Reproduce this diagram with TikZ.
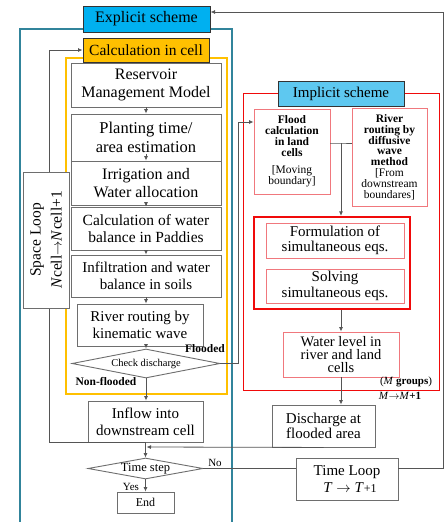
\documentclass[tikz,border=0pt]{standalone}
\usepackage{fontspec}
\setmainfont{Liberation Serif}
\usetikzlibrary{arrows.meta,shapes.geometric}
\definecolor{tealline}{RGB}{49,132,155}
\definecolor{bgray}{RGB}{110,110,110}
\definecolor{lgray}{RGB}{85,85,85}
\definecolor{pinkline}{RGB}{240,120,125}
\definecolor{redline}{RGB}{240,10,10}
\definecolor{explfill}{RGB}{0,176,240}
\definecolor{implfill}{RGB}{94,200,240}
\definecolor{orangefill}{RGB}{255,192,0}
\begin{document}
\begin{tikzpicture}[x=1pt,y=-1pt,
  box/.style={draw=bgray,line width=0.9pt,fill=white,align=center,inner sep=0pt,rectangle},
  pbox/.style={draw=pinkline,line width=0.9pt,fill=white,align=center,inner sep=0pt,rectangle},
  titlebox/.style={draw=black!80,line width=1pt,align=center,inner sep=0pt,rectangle},
  dia/.style={diamond,draw=bgray,line width=0.9pt,fill=white,inner sep=0pt,align=center},
  arr/.style={-{Latex[length=4.5pt,width=4pt]},line width=0.8pt,draw=lgray},
  ln/.style={line width=0.8pt,draw=lgray},
  fR/.style={font=\fontsize{11.5}{10.8}\selectfont},
  lab/.style={font=\fontsize{11}{12}\selectfont,inner sep=0pt}]
\useasboundingbox (0,0) rectangle (445,522);
\fill[white] (0,0) rectangle (445,522);

% frames
\draw[tealline,line width=1.6pt] (20,522) -- (20,29) -- (232,29) -- (232,522);
\draw[orangefill,line width=2.6pt] (66,58) rectangle (227,394);
\draw[redline,line width=1pt] (243,93) rectangle (439,390);

% left column
\node[titlebox,fill=explfill,minimum width=127pt,minimum height=26pt,font=\fontsize{16}{18}\selectfont] (expl) at (146.5,19) {Explicit scheme};
\node[titlebox,fill=orangefill,minimum width=126pt,minimum height=24pt,font=\fontsize{15.5}{18}\selectfont] (calc) at (146,50) {Calculation in cell};
\node[box,minimum width=150pt,minimum height=44pt,font=\fontsize{16}{18}\selectfont] (b1) at (146,85) {Reservoir\\Management Model};
\node[box,minimum width=150pt,minimum height=47pt,font=\fontsize{16.5}{19.5}\selectfont] (b2) at (146,137.5) {Planting time/\\area estimation};
\node[box,minimum width=150pt,minimum height=44pt,font=\fontsize{16}{18}\selectfont] (b3) at (146,183) {Irrigation and\\Water allocation};
\node[box,minimum width=150pt,minimum height=43pt,font=\fontsize{15.5}{17}\selectfont] (b4) at (146,228.5) {Calculation of water\\balance in Paddies};
\node[box,minimum width=150pt,minimum height=42pt,font=\fontsize{15}{17}\selectfont] (b5) at (146,276) {Infiltration and water\\balance in soils};
\node[box,minimum width=126pt,minimum height=42pt,font=\fontsize{15}{17}\selectfont] (b6) at (140,325) {River routing by\\kinematic wave};
\node[dia,minimum width=148pt,minimum height=29pt,shape aspect=5.1,font=\fontsize{10.5}{12}\selectfont] (d1) at (146,363.5) {Check discharge};
\node[box,minimum width=115pt,minimum height=41pt,font=\fontsize{15}{17}\selectfont] (b7) at (145.5,421.5) {Inflow into\\downstream cell};
\node[dia,minimum width=115pt,minimum height=21pt,shape aspect=5.5,font=\fontsize{12.5}{14}\selectfont] (d2) at (145.5,468.5) {Time step};
\node[box,minimum width=57pt,minimum height=21pt,font=\fontsize{12}{14}\selectfont] (b8) at (145.5,502.5) {End};

% right column
\node[titlebox,fill=implfill,minimum width=126pt,minimum height=25pt,font=\fontsize{15}{17}\selectfont] (impl) at (341,93.5) {Implicit scheme};
\node[pbox,minimum width=76pt,minimum height=85pt,fR] (r1) at (292,151.5) {\textbf{Flood}\\\textbf{calculation}\\\textbf{in land}\\\textbf{cells}\\[7pt][Moving\\boundary]};
\node[pbox,minimum width=75pt,minimum height=98pt,fR] (r2) at (389.5,157) {\textbf{River}\\\textbf{routing by}\\\textbf{diffusive}\\\textbf{wave}\\\textbf{method}\\{[}From\\downstream\\boundares]};
\node[draw=redline,line width=2.2pt,rectangle,minimum width=156pt,minimum height=92pt,inner sep=0pt] (th) at (332,263) {};
\node[pbox,minimum width=138pt,minimum height=35pt,font=\fontsize{15}{15.5}\selectfont] (r3) at (335,240.5) {Formulation of\\simultaneous eqs.};
\node[pbox,minimum width=138pt,minimum height=34pt,font=\fontsize{15}{15.5}\selectfont] (r4) at (335,286) {Solving\\simultaneous eqs.};
\node[pbox,minimum width=116pt,minimum height=45pt,font=\fontsize{14.5}{13}\selectfont] (r5) at (341,354.5) {Water level in\\river and land\\cells};
\node[box,minimum width=103pt,minimum height=42pt,font=\fontsize{15}{15.5}\selectfont] (b9) at (323.5,426) {Discharge at\\flooded area};
\node[box,minimum width=102pt,minimum height=42pt,font=\fontsize{15}{16.5}\selectfont] (b10) at (347,479) {Time Loop\\\hspace*{6pt}\textit{T} $\rightarrow$ \textit{T}{\fontsize{12}{12}\selectfont+1}};

% labels
\node[lab,font=\fontsize{11.5}{12}\selectfont\bfseries] (lfl) at (205,349) {Flooded};
\node[lab,font=\fontsize{11.5}{12}\selectfont\bfseries] (lnf) at (106,382) {Non-flooded};
\node[lab] (lno) at (215,463) {No};
\node[lab] (lyes) at (131,487) {Yes};
\node[lab] (lmg) at (406,382) {(\textit{M} \textbf{groups})};
\node[lab] (lmm) at (400,396) {\textit{M}$\rightarrow$\textit{M}\textbf{+1}};

% left chain arrows
\draw[arr] (b1.south) -- (b2.north);
\draw[arr] ([yshift=7pt]b2.south) -- (b3.north);
\draw[arr] (b3.south) -- (b4.north);
\draw[arr] (b4.south) -- (b5.north);
\draw[arr] (b5.south) -- (b5.south |- b6.north);
\draw[arr] (b5.south |- b6.south) -- (d1.north);
\draw[arr] (d1.south) -- (d1.south |- b7.north);
\coordinate (jn) at (145.5,447);
\draw[ln] (b7.south) -- (jn);
\draw[arr] (jn) -- (d2.north);
\draw[arr] (d2.south) -- (b8.north);

% flooded path
\coordinate (fy) at (238,122);
\draw[arr] (d1.east) -- (d1.east -| fy) -- (fy) -- (fy -| r1.west);

% right connections
\coordinate (jr) at (341,143);
\draw[ln] (r1.east |- jr) -- (jr) -- (r2.west |- jr);
\draw[arr] (jr) -- (jr |- th.north);
\draw[arr] (r5.north |- th.south) -- (r5.north);
\draw[arr] (r5.south) -- (r5.south |- b9.north);
\draw[arr] (b9.south) -- ([xshift=1pt]jn);

% time loop
\coordinate (tr) at (443,12);
\draw[ln] (d2.east) -- (d2.east -| b10.west);
\draw[arr] (b10.east |- d2.east) -- (tr |- d2.east) -- (tr) -- (tr -| expl.east);

% space loop
\coordinate (sl) at (49,440);
\draw[arr] (b7.south) -- (b7.south -| sl) -- (sl |- calc.west) -- (calc.west);
\node[box,rotate=90,minimum width=136pt,minimum height=46pt,font=\fontsize{15.5}{21}\selectfont] (spl) at (46,240) {Space Loop\\\textit{N}cell$\rightarrow$\textit{N}cell+1};
\end{tikzpicture}
\end{document}
